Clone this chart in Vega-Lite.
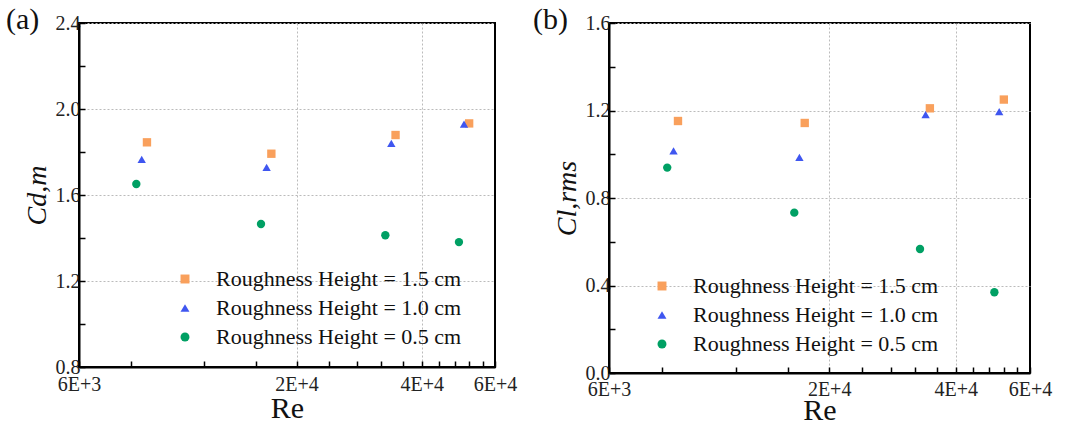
{
  "$schema": "https://vega.github.io/schema/vega-lite/v6.json",
  "background": "white",
  "padding": {"left": 5, "top": 4, "right": 5, "bottom": 5},
  "config": {
    "font": "Liberation Serif",
    "view": {"stroke": "black", "strokeWidth": 2},
    "axis": {
      "labelFont": "Liberation Serif",
      "titleFont": "Liberation Serif",
      "labelColor": "#222",
      "titleColor": "#111",
      "labelFontSize": 20,
      "domainColor": "black",
      "domainWidth": 2,
      "tickColor": "black",
      "tickWidth": 1.5,
      "gridColor": "#bbbbbb",
      "gridDash": [2, 2],
      "gridWidth": 1
    },
    "legend": {
      "labelFont": "Liberation Serif",
      "labelFontSize": 22,
      "labelColor": "#111",
      "labelLimit": 400,
      "symbolStrokeWidth": 0
    }
  },
  "datasets": {
    "a": [
      {"Re": 8740, "v": 1.845, "s": "Roughness Height = 1.5 cm"},
      {"Re": 17400, "v": 1.792, "s": "Roughness Height = 1.5 cm"},
      {"Re": 34600, "v": 1.879, "s": "Roughness Height = 1.5 cm"},
      {"Re": 52000, "v": 1.933, "s": "Roughness Height = 1.5 cm"},
      {"Re": 8490, "v": 1.766, "s": "Roughness Height = 1.0 cm"},
      {"Re": 16950, "v": 1.729, "s": "Roughness Height = 1.0 cm"},
      {"Re": 33800, "v": 1.840, "s": "Roughness Height = 1.0 cm"},
      {"Re": 50550, "v": 1.930, "s": "Roughness Height = 1.0 cm"},
      {"Re": 8240, "v": 1.651, "s": "Roughness Height = 0.5 cm"},
      {"Re": 16430, "v": 1.465, "s": "Roughness Height = 0.5 cm"},
      {"Re": 32700, "v": 1.413, "s": "Roughness Height = 0.5 cm"},
      {"Re": 49150, "v": 1.381, "s": "Roughness Height = 0.5 cm"}
    ],
    "b": [
      {"Re": 8750, "v": 1.152, "s": "Roughness Height = 1.5 cm"},
      {"Re": 17500, "v": 1.143, "s": "Roughness Height = 1.5 cm"},
      {"Re": 34700, "v": 1.210, "s": "Roughness Height = 1.5 cm"},
      {"Re": 52000, "v": 1.250, "s": "Roughness Height = 1.5 cm"},
      {"Re": 8540, "v": 1.015, "s": "Roughness Height = 1.0 cm"},
      {"Re": 17000, "v": 0.986, "s": "Roughness Height = 1.0 cm"},
      {"Re": 33900, "v": 1.181, "s": "Roughness Height = 1.0 cm"},
      {"Re": 50700, "v": 1.195, "s": "Roughness Height = 1.0 cm"},
      {"Re": 8250, "v": 0.939, "s": "Roughness Height = 0.5 cm"},
      {"Re": 16530, "v": 0.733, "s": "Roughness Height = 0.5 cm"},
      {"Re": 32880, "v": 0.567, "s": "Roughness Height = 0.5 cm"},
      {"Re": 49380, "v": 0.369, "s": "Roughness Height = 0.5 cm"}
    ]
  },
  "resolve": {"legend": {"color": "independent", "shape": "independent"}, "scale": {"x": "independent", "y": "independent"}},
  "spacing": 14,
  "hconcat": [
    {
      "width": 416,
      "height": 344,
      "data": {"name": "a"},
      "title": {"text": "(a)", "anchor": "start", "frame": "group", "fontSize": 30, "font": "Liberation Serif", "fontWeight": "normal", "color": "#111", "dx": -73, "dy": 22, "offset": 0},
      "mark": {"type": "point", "filled": true, "size": 70, "opacity": 1},
      "encoding": {
        "x": {
          "field": "Re", "type": "quantitative",
          "scale": {"type": "log", "domain": [6000, 60000], "nice": false},
          "axis": {
            "title": "Re", "titleFontSize": 30, "titleFontWeight": "normal", "titlePadding": -1, "titleFont": "Liberation Serif",
            "values": [6000, 8000, 12000, 16000, 20000, 24000, 28000, 32000, 36000, 40000, 44000, 48000, 52000, 56000, 60000],
            "labelExpr": "indexof([6000,20000,40000,60000], datum.value) >= 0 ? replace(format(datum.value, '.0e'), 'e', 'E') : ''",
            "labelFont": "Liberation Serif", "labelFontSize": 20,
            "tickSize": -6,
            "gridOpacity": {"condition": {"test": "indexof([20000,40000], datum.value) >= 0", "value": 1}, "value": 0},
            "labelPadding": 13,
            "labelFlush": false,
            "labelOverlap": false
          }
        },
        "y": {
          "field": "v", "type": "quantitative",
          "scale": {"domain": [0.8, 2.4], "nice": false, "zero": false},
          "axis": {
            "title": "Cd,m", "titleFontSize": 28, "titleFontStyle": "italic", "titleFontWeight": "normal", "titlePadding": 4, "titleFont": "Liberation Serif",
            "values": [0.8, 1.0, 1.2, 1.4, 1.6, 1.8, 2.0, 2.2, 2.4],
            "labelExpr": "round(datum.value*10) % 4 == 0 ? format(datum.value, '.1f') : ''",
            "labelFont": "Liberation Serif", "labelFontSize": 20,
            "tickSize": -6,
            "gridOpacity": {"condition": {"test": "round(datum.value*10) % 4 == 0", "value": 1}, "value": 0},
            "labelPadding": 5
          }
        },
        "color": {
          "field": "s", "type": "nominal",
          "scale": {"domain": ["Roughness Height = 1.5 cm", "Roughness Height = 1.0 cm", "Roughness Height = 0.5 cm"], "range": ["#F9A05C", "#3F56F0", "#00A064"]},
          "legend": {"title": null, "orient": "none", "legendX": 95, "legendY": 245, "rowPadding": 7, "labelOffset": 20, "symbolSize": 80, "labelFont": "Liberation Serif", "labelFontSize": 22, "labelLimit": 400}
        },
        "shape": {
          "field": "s", "type": "nominal",
          "scale": {"domain": ["Roughness Height = 1.5 cm", "Roughness Height = 1.0 cm", "Roughness Height = 0.5 cm"], "range": ["square", "triangle-up", "circle"]},
          "legend": {"title": null, "orient": "none", "legendX": 95, "legendY": 245, "rowPadding": 7, "labelOffset": 20, "symbolSize": 80, "labelFont": "Liberation Serif", "labelFontSize": 22, "labelLimit": 400}
        }
      }
    },
    {
      "width": 421,
      "height": 350,
      "data": {"name": "b"},
      "title": {"text": "(b)", "anchor": "start", "frame": "group", "fontSize": 30, "font": "Liberation Serif", "fontWeight": "normal", "color": "#111", "dx": -76, "dy": 22, "offset": 0},
      "mark": {"type": "point", "filled": true, "size": 70, "opacity": 1},
      "encoding": {
        "x": {
          "field": "Re", "type": "quantitative",
          "scale": {"type": "log", "domain": [6000, 60000], "nice": false},
          "axis": {
            "title": "Re", "titleFontSize": 30, "titleFontWeight": "normal", "titlePadding": -4, "titleFont": "Liberation Serif",
            "values": [6000, 8000, 12000, 16000, 20000, 24000, 28000, 32000, 36000, 40000, 44000, 48000, 52000, 56000, 60000],
            "labelExpr": "indexof([6000,20000,40000,60000], datum.value) >= 0 ? replace(format(datum.value, '.0e'), 'e', 'E') : ''",
            "labelFont": "Liberation Serif", "labelFontSize": 20,
            "tickSize": -6,
            "gridOpacity": {"condition": {"test": "indexof([20000,40000], datum.value) >= 0", "value": 1}, "value": 0},
            "labelPadding": 12,
            "labelFlush": false,
            "labelOverlap": false
          }
        },
        "y": {
          "field": "v", "type": "quantitative",
          "scale": {"domain": [0, 1.6], "nice": false, "zero": false},
          "axis": {
            "title": "Cl,rms", "titleFontSize": 28, "titleFontStyle": "italic", "titleFontWeight": "normal", "titlePadding": 4, "titleFont": "Liberation Serif",
            "values": [0, 0.2, 0.4, 0.6, 0.8, 1.0, 1.2, 1.4, 1.6],
            "labelExpr": "round(datum.value*10) % 4 == 0 ? format(datum.value, '.1f') : ''",
            "labelFont": "Liberation Serif", "labelFontSize": 20,
            "tickSize": -6,
            "gridOpacity": {"condition": {"test": "round(datum.value*10) % 4 == 0", "value": 1}, "value": 0},
            "labelPadding": 5
          }
        },
        "color": {
          "field": "s", "type": "nominal",
          "scale": {"domain": ["Roughness Height = 1.5 cm", "Roughness Height = 1.0 cm", "Roughness Height = 0.5 cm"], "range": ["#F9A05C", "#3F56F0", "#00A064"]},
          "legend": {"title": null, "orient": "none", "legendX": 42, "legendY": 252, "rowPadding": 7, "labelOffset": 20, "symbolSize": 80, "labelFont": "Liberation Serif", "labelFontSize": 22, "labelLimit": 400}
        },
        "shape": {
          "field": "s", "type": "nominal",
          "scale": {"domain": ["Roughness Height = 1.5 cm", "Roughness Height = 1.0 cm", "Roughness Height = 0.5 cm"], "range": ["square", "triangle-up", "circle"]},
          "legend": {"title": null, "orient": "none", "legendX": 42, "legendY": 252, "rowPadding": 7, "labelOffset": 20, "symbolSize": 80, "labelFont": "Liberation Serif", "labelFontSize": 22, "labelLimit": 400}
        }
      }
    }
  ]
}
